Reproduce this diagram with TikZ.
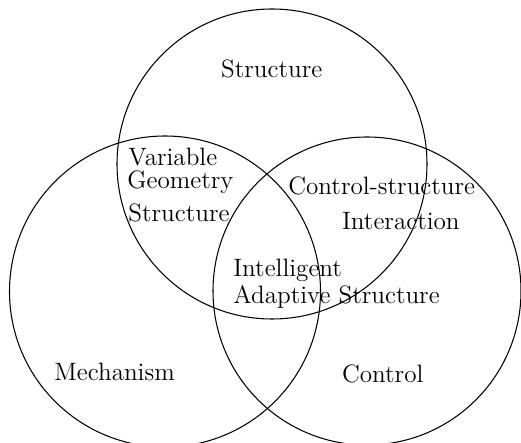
\documentclass[tikz,border=0pt]{standalone}
\usepackage{tikz}

\begin{document}
\begin{tikzpicture}[x=0.02cm,y=0.02cm]
\tikzstyle{every node}=[inner sep=0pt, font=\fontsize{14.3}{17}\selectfont]
\useasboundingbox (0,0) rectangle (521,443);
% the three sets
\draw[line width=0.6pt] (272,279) circle (155);
\draw[line width=0.6pt] (165,151.5) circle (155.5);
\draw[line width=0.6pt] (367,152) circle (154);
% labels
\draw (271.7,365.7) node (str) [anchor=base] {Structure};
\draw (128,277.3) node (vg1) [anchor=base west] {Variable};
\draw (127,254) node (vg2) [anchor=base west] {Geometry};
\draw (128,221) node (vg3) [anchor=base west] {Structure};
\draw (288,248.7) node (csi1) [anchor=base west] {Control-structure};
\draw (341.7,213.7) node (csi2) [anchor=base west] {Interaction};
\draw (233,166.3) node (ias1) [anchor=base west] {Intelligent};
\draw (233,139.7) node (ias2) [anchor=base west] {Adaptive Structure};
\draw (54,62) node (mech) [anchor=base west] {Mechanism};
\draw (341.7,60.3) node (ctrl) [anchor=base west] {Control};
\end{tikzpicture}
\end{document}
